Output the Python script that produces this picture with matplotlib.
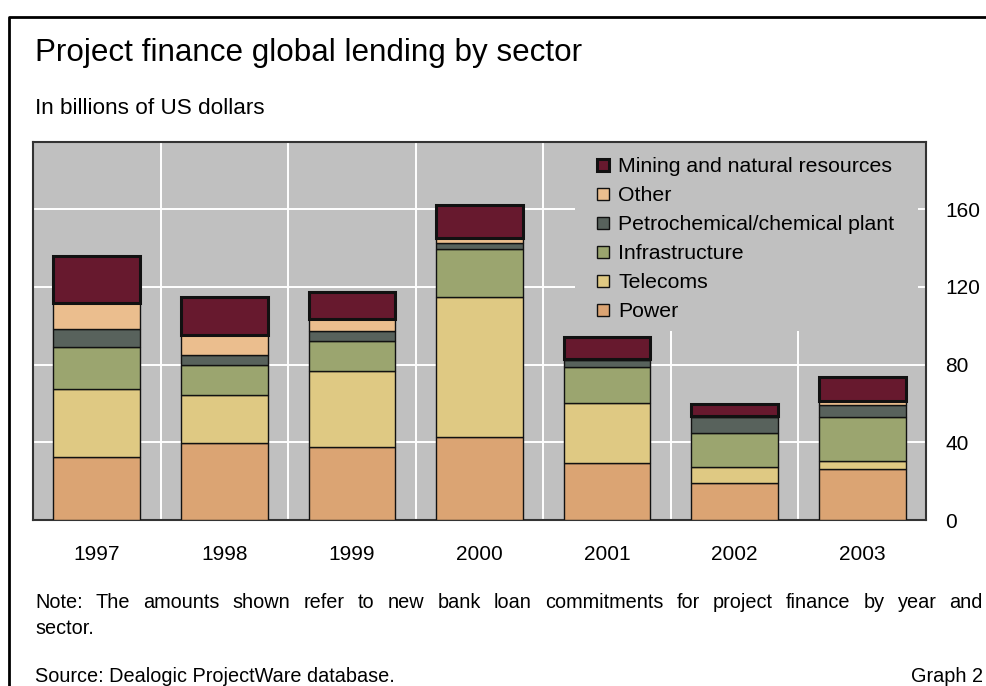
import matplotlib
matplotlib.use("Agg")
import matplotlib.pyplot as plt
from matplotlib.lines import Line2D
from matplotlib.patches import Rectangle
import numpy as np

# values in billions of US dollars
years = ["1997", "1998", "1999", "2000", "2001", "2002", "2003"]
power = [32.4, 39.8, 37.8, 42.9, 29.5, 19.2, 26.4]
telecoms = [35.2, 24.6, 38.9, 71.9, 30.8, 8.3, 4.0]
infrastructure = [21.5, 15.3, 15.5, 24.6, 18.5, 17.3, 22.8]
petrochemical = [9.3, 5.3, 5.1, 3.3, 3.4, 8.2, 6.0]
other = [13.4, 10.1, 6.0, 2.5, 0.5, 0.3, 2.1]
mining = [23.8, 19.9, 13.8, 17.0, 11.5, 6.2, 12.5]

sectors = ["Power", "Telecoms", "Infrastructure", "Petrochemical/chemical plant",
           "Other", "Mining and natural resources"]
colours = ["#dba473", "#dfc983", "#9ba56f", "#58625c", "#ebbe8e", "#67192e"]
yticks = [0, 40, 80, 120, 160]

title = "Project finance global lending by sector"
subtitle = "In billions of US dollars"
note_1 = "Note: The amounts shown refer to new bank loan commitments for project finance by year and"
note_2 = "sector."
source = "Source: Dealogic ProjectWare database."
graph_no = "Graph 2"

W, H = 987, 686
BG = "#c0c0c0"

plt.rcParams['font.family'] = ['Liberation Sans', 'DejaVu Sans']

fig = plt.figure(figsize=(W / 100, H / 100), dpi=100)
ax = fig.add_axes([33 / W, 166 / H, 893 / W, 378 / H])
ax.set_facecolor(BG)

x = np.arange(len(years))
bottom = np.zeros(len(years))
series = [power, telecoms, infrastructure, petrochemical, other, mining]
handles = []
for vals, name, col in zip(series, sectors, colours):
    lw = 2.2 if name.startswith("Mining") else 1.0
    bars = ax.bar(x, vals, 0.68, bottom=bottom, color=col, edgecolor="#111111",
                  linewidth=lw, label=name, zorder=3)
    handles.append(bars)
    bottom += np.array(vals)

ax.set_xlim(-0.5, len(years) - 0.5)
ax.set_ylim(0, 194.5)

ax.yaxis.tick_right()
ax.set_yticks(yticks)
ax.set_xticks(x, years)
ax.set_xticks(x[:-1] + 0.5, minor=True)
ax.tick_params(axis="y", length=0, labelsize=15, pad=14)
ax.tick_params(axis="x", which="both", length=0, labelsize=15, pad=18)
ax.set_axisbelow(True)
ax.grid(axis="y", which="major", color="white", linewidth=1.4)
ax.grid(axis="x", which="minor", color="white", linewidth=1.4)
for sp in ax.spines.values():
    sp.set_color("#333333")
    sp.set_linewidth(1.5)

# grey box behind the legend that hides the grid
ax.add_patch(Rectangle((0.607, 0.5), 0.384, 0.5, transform=ax.transAxes,
                       facecolor=BG, edgecolor="none", zorder=1))
ax.legend(handles[::-1], sectors[::-1], loc="upper left",
          bbox_to_anchor=(0.6316, 0.959), fontsize=15.3, frameon=False,
          handlelength=0.55, handleheight=0.55, handletextpad=0.45,
          labelspacing=0.47, borderpad=0, borderaxespad=0)

# outer frame of the graph box
fig.add_artist(Line2D([9 / W, 9 / W, 1], [0, 1 - 17 / H, 1 - 17 / H],
                      transform=fig.transFigure, color="black", linewidth=2))

fig.text(35 / W, 1 - 61 / H, title, fontsize=22.6, va="baseline")
fig.text(35 / W, 1 - 114 / H, subtitle, fontsize=16.2, va="baseline")


def justified(words, x0, x1, y, size):
    r = fig.canvas.get_renderer()
    texts = [fig.text(0, 1 - y / H, w, fontsize=size, va="baseline") for w in words]
    widths = [t.get_window_extent(r).width for t in texts]
    gap = (x1 - x0 - sum(widths)) / (len(words) - 1)
    pos = x0
    for t, w in zip(texts, widths):
        t.set_x(pos / W)
        pos += w + gap


justified(note_1.split(), 35, 983, 608, 14.3)
fig.text(35 / W, 1 - 634 / H, note_2, fontsize=14.3, va="baseline")
fig.text(35 / W, 1 - 682 / H, source, fontsize=14.3, va="baseline")
fig.text(983 / W, 1 - 682 / H, graph_no, fontsize=14.3, va="baseline", ha="right")

fig.savefig("out.png", dpi=100)
